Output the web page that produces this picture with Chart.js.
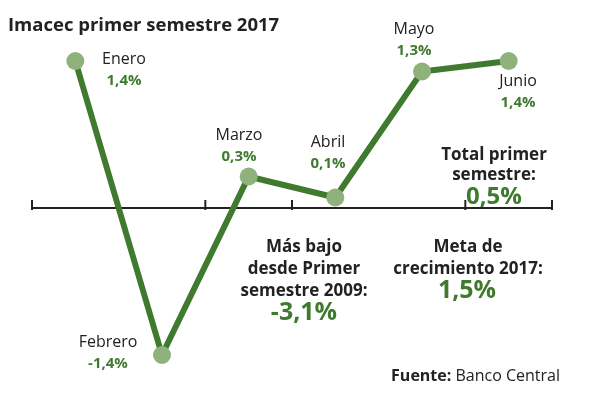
<!DOCTYPE html>
<html><head><meta charset="utf-8">
<script src="https://cdn.jsdelivr.net/npm/chart.js@4"></script>
<style>body{margin:0;background:#fff}#w{width:600px;height:400px}</style>
</head><body><div id="w"><canvas id="c"></canvas></div>
<script>
const months = ["Enero","Febrero","Marzo","Abril","Mayo","Junio"];
const values = [1.4,-1.4,0.3,0.1,1.3,1.4];
const valueLabels = ["1,4%","-1,4%","0,3%","0,1%","1,3%","1,4%"];
const DARK="#3f7a2e", LIGHT="#8fb27c", TXT="#222";
const F="'Open Sans', 'Noto Sans', sans-serif";
const labelPos=[[124,64],[108,347],[239,140],[328,147],[414,34],[518,86]];
const tickIdx=[0,2,3,5,6];
const deco={id:'deco',
 beforeDatasetsDraw(ch){const c=ch.ctx,y=ch.scales.y;const y0=y.getPixelForValue(0);
  c.save();c.strokeStyle="#222";c.lineWidth=2;c.beginPath();c.moveTo(32,y0);c.lineTo(552,y0);c.stroke();
  const step=(552-32)/months.length;
  tickIdx.forEach(i=>{const px=32+i*step;c.beginPath();c.moveTo(px,y0-8);c.lineTo(px,y0+2);c.stroke();});
  c.restore();},
 afterDatasetsDraw(ch){const c=ch.ctx;c.save();c.textAlign="center";c.textBaseline="alphabetic";
  months.forEach((m,i)=>{const [lx,ly]=labelPos[i];c.fillStyle=TXT;c.font="16px "+F;c.fillText(m,lx,ly);
   c.fillStyle=DARK;c.font="bold 15px "+F;c.fillText(valueLabels[i],lx,ly+21);});
  c.textAlign="left";c.fillStyle=TXT;c.font="bold 18.5px "+F;c.fillText("Imacec primer semestre 2017",8,31);
  c.textAlign="center";c.font="bold 17px "+F;
  c.fillText("Total primer",494,160);c.fillText("semestre:",494,180);
  c.fillStyle=DARK;c.font="bold 24px "+F;c.fillText("0,5%",494,204);
  c.fillStyle=TXT;c.font="bold 17px "+F;
  c.fillText("Más bajo",304,252);c.fillText("desde Primer",304,274);c.fillText("semestre 2009:",304,296);
  c.fillStyle=DARK;c.font="bold 25px "+F;c.fillText("-3,1%",304,320);
  c.fillStyle=TXT;c.font="bold 17px "+F;c.fillText("Meta de",468,252);c.fillText("crecimiento 2017:",468,274);
  c.fillStyle=DARK;c.font="bold 25px "+F;c.fillText("1,5%",467,298);
  c.textAlign="right";c.fillStyle=TXT;c.font="16px "+F;const t2="Banco Central";c.fillText(t2,560,381);
  const w=c.measureText(t2).width;c.font="bold 16px "+F;c.fillText("Fuente: ",560-w,381);
  c.restore();}};
new Chart(document.getElementById("c"),{type:"line",
 data:{labels:months,datasets:[{data:values,borderColor:DARK,borderWidth:6,pointRadius:9,pointBackgroundColor:LIGHT,pointBorderColor:LIGHT,pointBorderWidth:0,tension:0}]},
 options:{responsive:true,maintainAspectRatio:false,animation:false,
  layout:{padding:{left:32,right:48,top:40,bottom:34.5}},
  plugins:{legend:{display:false},tooltip:{enabled:false}},
  scales:{x:{type:"category",offset:true,display:false},y:{min:-1.5,max:1.6,display:false}}},
 plugins:[deco]});
</script></body></html>
